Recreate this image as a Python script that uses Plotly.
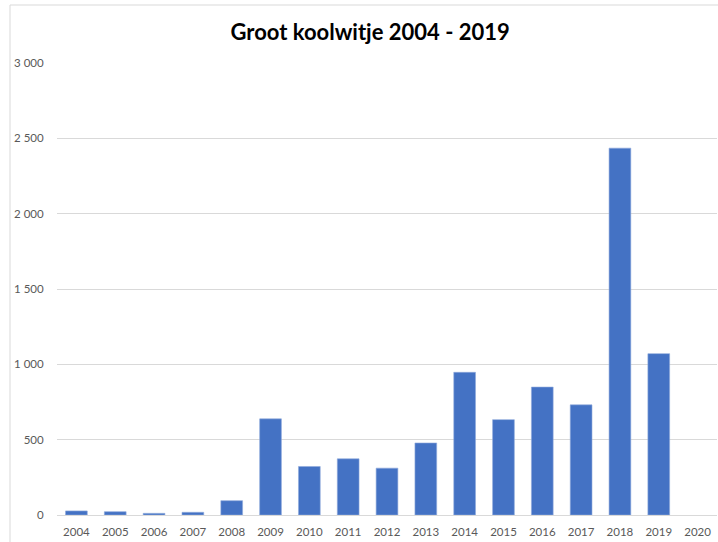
import plotly.graph_objects as go

years = ["2004", "2005", "2006", "2007", "2008", "2009", "2010", "2011", "2012",
         "2013", "2014", "2015", "2016", "2017", "2018", "2019", "2020"]
counts = [27, 22, 11, 18, 95, 638, 322, 373, 311, 478, 947, 633, 849, 731, 2435, 1071, None]
y_tick_vals = [0, 500, 1000, 1500, 2000, 2500, 3000]
y_tick_text = ["0", "500", "1 000", "1 500", "2 000", "2 500", "3 000"]
title_text = "Groot koolwitje 2004 - 2019"

fig = go.Figure(go.Bar(
    x=years, y=counts,
    marker=dict(color="#4472C4", line=dict(color="#8faadc", width=0.6)),
))

fig.update_layout(
    width=718, height=542,
    margin=dict(l=57, r=1, t=63, b=27),
    paper_bgcolor="white", plot_bgcolor="white",
    bargap=0.44,
    showlegend=False,
    title=dict(text="<b>" + title_text + "</b>", x=0.5155, xanchor="center",
               y=1 - 32 / 542, yanchor="middle",
               font=dict(family="Lato", size=22, color="#000000")),
    font=dict(family="Lato", size=11.5, color="#595959"),
    xaxis=dict(type="category", showgrid=False, showline=True, linecolor="#d9d9d9",
               linewidth=1, ticks="outside", ticklen=6, tickcolor="rgba(0,0,0,0)",
               tickfont=dict(size=11.5, color="#595959"), fixedrange=True),
    yaxis=dict(range=[0, 3000], tickvals=y_tick_vals, ticktext=y_tick_text,
               showgrid=True, gridcolor="#d9d9d9", gridwidth=1, zeroline=False,
               showline=False, ticks="outside", ticklen=10, tickcolor="rgba(0,0,0,0)",
               tickfont=dict(size=11.5, color="#595959"), fixedrange=True),
    shapes=[dict(type="rect", xref="paper", yref="paper",
                 x0=(10 - 57) / 660, x1=1.2, y0=-0.2, y1=(515 - 5) / 452,
                 line=dict(color="#d9d9d9", width=1), fillcolor="rgba(0,0,0,0)",
                 layer="below")],
)

fig.write_html("out.html", config={"displayModeBar": False},
               post_script="document.body.style.margin='0';document.body.style.overflow='hidden';")
